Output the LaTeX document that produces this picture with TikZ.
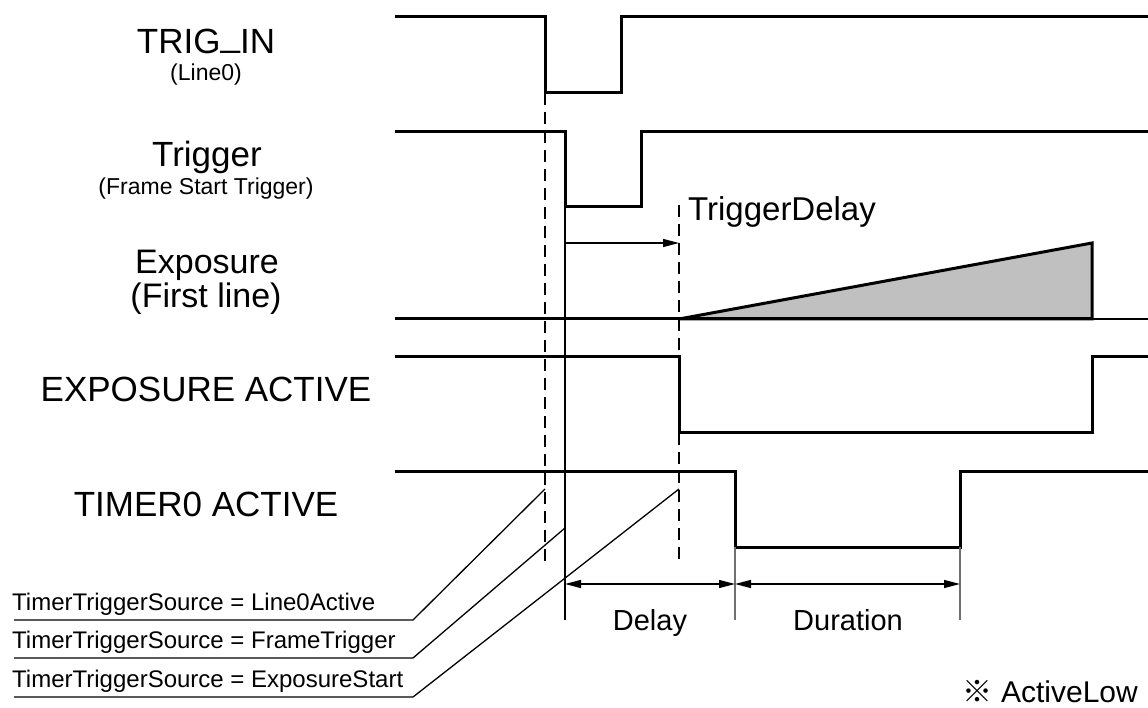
\documentclass[tikz,border=0pt]{standalone}
\usepackage{fontspec}
\setmainfont{Liberation Sans}
\newfontfamily\cjk{Noto Sans CJK JP}
\usetikzlibrary{arrows.meta}
\definecolor{trifill}{HTML}{C0C0C0}
\definecolor{dimgray}{HTML}{707070}
\begin{document}
\begin{tikzpicture}[x=1pt,y=-1pt,
  sig/.style={line width=3pt, line join=miter},
  fine/.style={line width=1.3pt},
  guide/.style={line width=1.4pt, dash pattern=on 12pt off 7pt},
  tip/.tip={Triangle[length=16pt,width=8pt]},
  big/.style={font=\fontsize{35}{40}\selectfont, anchor=base, inner sep=0pt},
  small/.style={font=\fontsize{23}{28}\selectfont, anchor=base, inner sep=0pt},
  mid/.style={font=\fontsize{29}{34}\selectfont, anchor=base, inner sep=0pt},
  src/.style={font=\fontsize{24}{28}\selectfont, anchor=base west, inner sep=0pt}]
\useasboundingbox (0,0) rectangle (1148,708);

% ---- signal labels
\node[big]   (trigin)  at (206,54)  {TRIG\raisebox{0.2em}{\_}IN};
\node[small] (line0)   at (206,81)  {(Line0)};
\node[big]   (trig)    at (207,167) {Trigger};
\node[small] (fst)     at (206,195) {(Frame Start Trigger)};
\node[big, font=\fontsize{34}{38}\selectfont] (expo)  at (207,274) {Exposure};
\node[big, font=\fontsize{34}{38}\selectfont] (first) at (206,308) {(First line)};
\node[big]   (expact)  at (206,401) {EXPOSURE ACTIVE};
\node[big]   (tmract)  at (206,516) {TIMER0 ACTIVE};

% ---- waveforms
\draw[sig] (395,17) -- (545,17) -- (545,93) -- (621,93) -- (621,17) -- (1148,17);
\draw[sig] (395,132) -- (565,132) -- (565,207) -- (641,207) -- (641,132) -- (1148,132);
\draw[sig, fill=trifill] (679,319) -- (1092,243) -- (1092,319) -- cycle;
\draw[sig] (395,319) -- (1092,319);
\draw[fine] (1092,319) -- (1148,319);
\draw[sig] (395,357) -- (679,357) -- (679,432) -- (1092,432) -- (1092,357) -- (1148,357);
\draw[sig] (395,471) -- (735,471) -- (735,547) -- (960,547) -- (960,471) -- (1148,471);

% ---- reference lines
\coordinate (d1t) at (545,93);  \coordinate (d1b) at (545,565);
\coordinate (d2t) at (679,205); \coordinate (d2b) at (679,565);
\coordinate (s1t) at (565,207); \coordinate (s1b) at (565,620);
\coordinate (s2t) at (735,547); \coordinate (s2b) at (735,620);
\coordinate (s3t) at (960,547); \coordinate (s3b) at (960,620);
\draw[guide] (d1t) -- (d1b);
\draw[guide] (d2t) -- (d2b);
\draw[fine] (s1t) -- (s1b);
\draw[line width=1.1pt, dimgray] (s2t) -- (s2b);
\draw[line width=1.1pt, dimgray] (s3t) -- (s3b);

% ---- TriggerDelay
\node[font=\fontsize{33}{38}\selectfont, anchor=base west, inner sep=0pt] (tdl) at (688,221) {TriggerDelay};
\coordinate (tda) at (565,243); \coordinate (tdb) at (679,243);
\draw[fine, -tip] (tda) -- (tdb);

% ---- Delay / Duration
\coordinate (da) at (565,584); \coordinate (db) at (735,584); \coordinate (dc) at (960,584);
\draw[fine, tip-tip] (da) -- (db);
\draw[fine, tip-tip] (db) -- (dc);
\node[mid] (delay) at (650,630) {Delay};
\node[mid] (dur)   at (848,630) {Duration};

% ---- TimerTriggerSource leaders
\node[src] (src1) at (12,610) {TimerTriggerSource = Line0Active};
\node[src] (src2) at (12,648) {TimerTriggerSource = FrameTrigger};
\node[src] (src3) at (12,687) {TimerTriggerSource = ExposureStart};
\coordinate (u1a) at (14,620); \coordinate (u1b) at (413,620); \coordinate (u1c) at (545,489);
\coordinate (u2a) at (14,658); \coordinate (u2b) at (413,658); \coordinate (u2c) at (565,528);
\coordinate (u3a) at (14,697); \coordinate (u3b) at (413,697); \coordinate (u3c) at (679,489);
\draw[fine] (u1a) -- (u1b) -- (u1c);
\draw[fine] (u2a) -- (u2b) -- (u2c);
\draw[fine] (u3a) -- (u3b) -- (u3c);

% ---- note
\node[font=\fontsize{30}{34}\selectfont, anchor=base east, inner sep=0pt] (note) at (1138,702) {{\cjk ※} ActiveLow};
\end{tikzpicture}
\end{document}
